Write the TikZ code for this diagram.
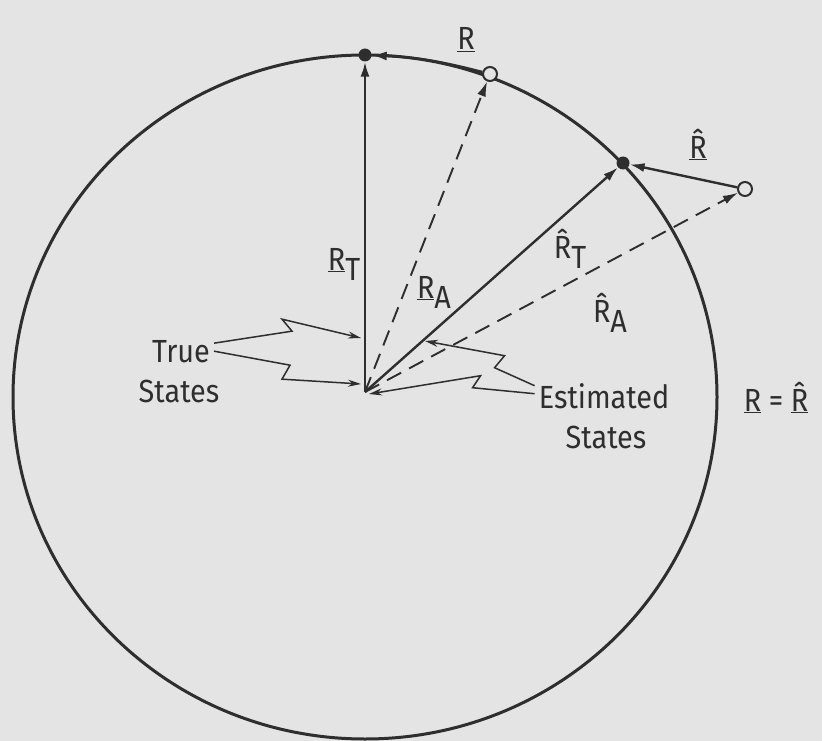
\documentclass[tikz,border=0pt]{standalone}
\usepackage{fontspec}
\setmainfont{Fira Sans}[FakeStretch=0.9]
\usetikzlibrary{arrows.meta}
\definecolor{bg}{HTML}{E4E4E4}
\definecolor{ink}{HTML}{2E2E2E}
\newcommand{\Rh}{R^^^^0302}
\newcommand{\sbx}[1]{\raisebox{-0.6ex}{#1}}
\begin{document}
\begin{tikzpicture}[x=1pt,y=-1pt,
  ink/.style={draw=ink,line width=2.4pt},
  vec/.style={ink,-{Latex[length=15pt,width=9pt]}},
  dvec/.style={vec,dash pattern=on 16pt off 9pt,line width=1.9pt},
  fdot/.style={circle,fill=ink,inner sep=0pt,minimum size=13pt},
  odot/.style={circle,draw=ink,fill=bg,line width=2pt,inner sep=0pt,minimum size=14pt},
  lbl/.style={text=ink,font=\fontsize{32}{40}\selectfont,inner sep=0pt},
  zig/.style={draw=ink,line width=1.5pt,line join=miter,-{Stealth[length=13pt,width=7pt]}}]
\fill[bg] (0,0) rectangle (822,741);
\useasboundingbox (0,0) rectangle (822,741);
\draw[ink,line width=3pt] (365,397) ellipse [x radius=352, y radius=342];
\coordinate (O) at (365,392);
\node[fdot] (P1) at (365,55) {};
\node[odot] (A1) at (490,74) {};
\node[fdot] (P2) at (623,163) {};
\node[odot] (A2) at (745,189) {};
\draw[vec] (O) -- (P1);
\draw[dvec] (O) -- (A1);
\draw[vec] (O) -- (P2);
\draw[dvec] (O) -- (A2);
\draw[vec] (A1) to[bend right=6] (P1);
\draw[vec] (A2) -- (P2);
% vector labels
\node[lbl,anchor=base] (lRT) at (344,270) {\underline{R}\sbx{T}};
\node[lbl,anchor=base] (lRA) at (434,298) {\underline{R}\sbx{A}};
\node[lbl,anchor=base] (lR) at (466,50) {\underline{R}};
\node[lbl,anchor=base] (lRh) at (698,158) {\underline{\Rh}};
\node[lbl,anchor=base] (lRhT) at (570,258) {\Rh\sbx{T}};
\node[lbl,anchor=base] (lRhA) at (610,322) {\Rh\sbx{A}};
% state labels
\node[lbl,anchor=base] (tS1) at (181,362) {True};
\node[lbl,anchor=base] (tS2) at (179,402) {States};
\node[lbl,anchor=base] (eS1) at (604,408) {Estimated};
\node[lbl,anchor=base] (eS2) at (606,448) {States};
\node[lbl,anchor=base] (eq) at (776,411) {\underline{R} = \underline{\Rh}};
% jagged pointer arrows
\coordinate (t1) at (361,338);
\coordinate (t2) at (361,384);
\coordinate (e1) at (369,394);
\coordinate (e2) at (425,341);
\draw[zig] (tS1.east) ++(4,-8) -- ++(78,-12) -- ++(-10,-12) -- (t1);
\draw[zig] (tS1.east) ++(4,0) -- ++(76,14) -- ++(-8,14) -- (t2);
\draw[zig] (eS1.west) ++(-4,-10) -- ++(-40,-18) -- ++(10,-12) -- (e2);
\draw[zig] (eS1.west) ++(-4,-2) -- ++(-62,-6) -- ++(8,-12) -- (e1);
\end{tikzpicture}
\end{document}
